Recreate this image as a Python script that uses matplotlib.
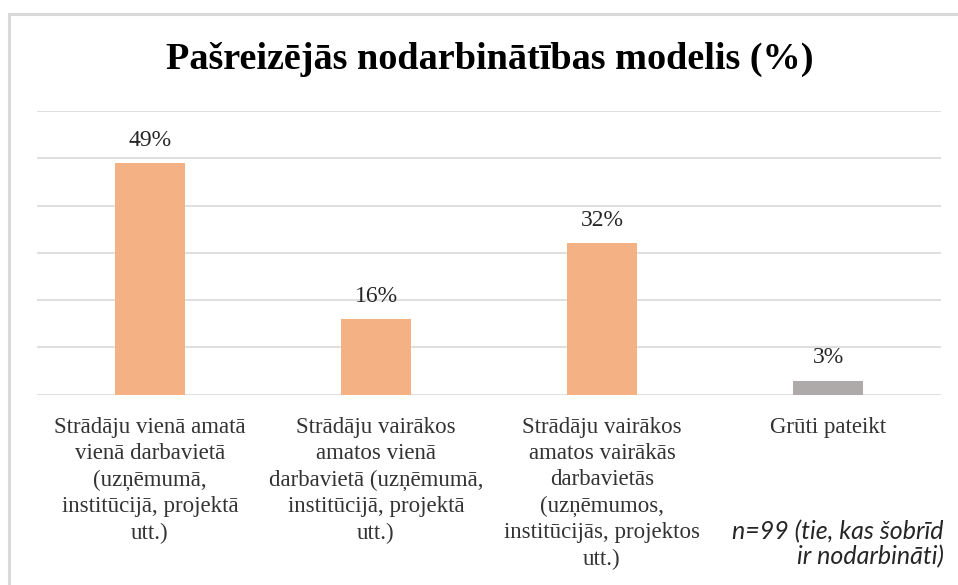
import matplotlib
matplotlib.use("Agg")
import matplotlib.pyplot as plt
from matplotlib.patches import Rectangle

categories = [
    "Strādāju vienā amatā\nvienā darbavietā\n(uzņēmumā,\ninstitūcijā, projektā\nutt.)",
    "Strādāju vairākos\namatos vienā\ndarbavietā (uzņēmumā,\ninstitūcijā, projektā\nutt.)",
    "Strādāju vairākos\namatos vairākās\ndarbavietās\n(uzņēmumos,\ninstitūcijās, projektos\nutt.)",
    "Grūti pateikt",
]
values = [49, 16, 32, 3]
labels = ["49%", "16%", "32%", "3%"]
colors = ["#F4B183", "#F4B183", "#F4B183", "#AEAAAA"]
title = "Pašreizējās nodarbinātības modelis (%)"
note = "n=99 (tie, kas šobrīd\nir nodarbināti)"

W, H = 958, 585
fig = plt.figure(figsize=(W / 100, H / 100), dpi=100)
fig.patch.set_facecolor("white")

# chart border
fig.add_artist(Rectangle((9 / W, -0.1), 1.2, 1 - 14 / H + 0.1, transform=fig.transFigure,
                         fill=False, edgecolor="#D9D9D9", linewidth=2.2))

ax = fig.add_axes([37 / W, 190.3 / H, (941 - 37) / W, (394.7 - 111) / H])
x = range(len(values))
ax.bar(x, values, width=0.31, color=colors, zorder=3)
ax.set_ylim(0, 60)
ax.set_xlim(-0.5, len(values) - 0.5)
ax.set_yticks(range(0, 61, 10))
ax.yaxis.grid(True, color="#D9D9D9", linewidth=1.2, zorder=0)
ax.tick_params(axis="y", left=False, labelleft=False)
ax.tick_params(axis="x", length=0, pad=16)
for s in ax.spines.values():
    s.set_visible(False)
ax.set_xticks(list(x))
ax.set_xticklabels(categories, family="Liberation Serif", fontsize=16.5, color="#333333",
                   linespacing=1.33, va="top")

for i, (v, t) in enumerate(zip(values, labels)):
    ax.annotate(t, (i, v), xytext=(0, 16.5), textcoords="offset points", ha="center",
                va="center", family="Liberation Serif", fontsize=17, color="#262626")

fig.text(490 / W, 1 - 69 / H, title, ha="center", va="baseline", family="Liberation Serif",
         fontweight="bold", fontsize=27.5, color="black")

fig.text(944 / W, 1 - 544 / H, note, ha="right", va="center", family="Lato",
         style="italic", fontsize=18, color="#262626", linespacing=1.12)

fig.savefig("out.png", dpi=100, facecolor="white")
